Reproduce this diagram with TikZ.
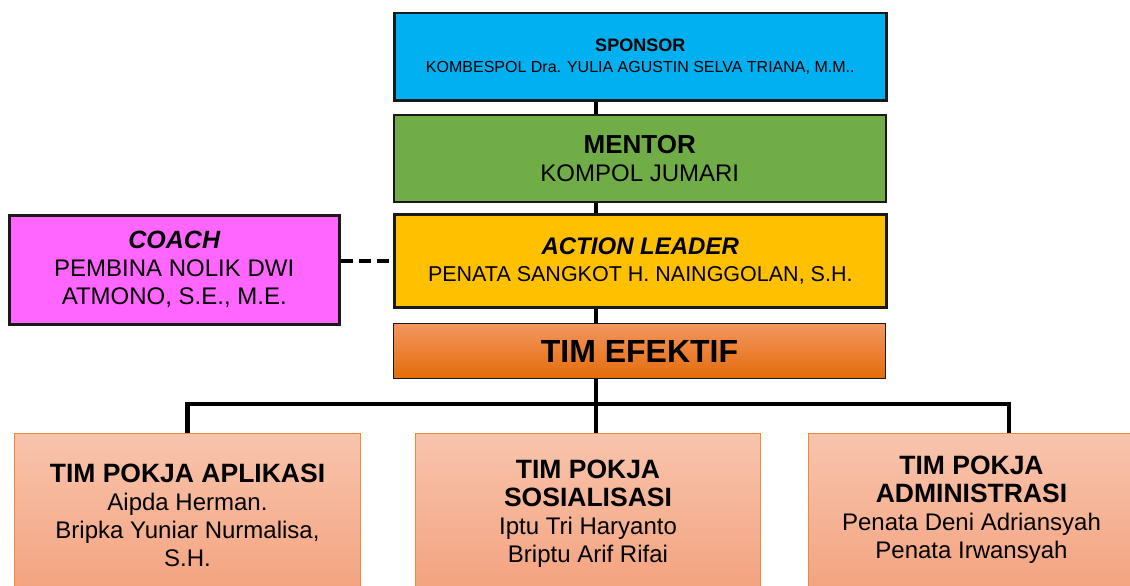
\documentclass[tikz,border=0pt]{standalone}
\usepackage{fontspec}
\setmainfont{Liberation Sans}
\usepackage{tikz}
\usetikzlibrary{
    positioning,
    calc,
    backgrounds
}
\definecolor{SponsorBlue}{RGB}{0,176,240}
\definecolor{MentorGreen}{RGB}{112,173,71}
\definecolor{LeaderGold}{RGB}{255,192,0}
\definecolor{CoachPink}{RGB}{255,102,255}
\definecolor{TeamTop}{RGB}{243,150,95}
\definecolor{TeamMid}{RGB}{246,128,44}
\definecolor{TeamBot}{RGB}{228,108,10}
\definecolor{PokjaTop}{RGB}{248,196,172}
\definecolor{PokjaBot}{RGB}{243,162,126}
\definecolor{PokjaEdge}{RGB}{240,135,60}
\definecolor{EdgeInk}{RGB}{25,25,25}
\tikzset{
    unit/.style={draw=EdgeInk, inner sep=0pt, align=center, anchor=north west},
    heavy/.style={unit, line width=2.5pt},
    light/.style={unit, line width=1.5pt},
    pokja/.style={unit, draw=PokjaEdge, line width=1pt, top color=PokjaTop, bottom color=PokjaBot,
        font=\fontsize{24}{28}\selectfont},
    link/.style={line width=4.5pt, draw=black},
    dashlink/.style={line width=4pt, draw=black, dash pattern=on 12pt off 6pt}
}

\begin{document}
\begin{tikzpicture}[x=1pt, y=-1pt]
    \useasboundingbox (0,0) rectangle (1130,586);
    \coordinate (spine) at (596,0);
    \coordinate (bus) at (0,404);
    \coordinate (admdrop) at (1009,404);
    % top chain
    \node[heavy, fill=SponsorBlue, minimum width=492pt, minimum height=87pt,
        font=\fontsize{16}{21}\selectfont] (sponsor) at (393,12)
        {{\bfseries\fontsize{18}{21}\selectfont SPONSOR}\\KOMBESPOL Dra. YULIA AGUSTIN SELVA TRIANA, M.M..};
    \node[light, fill=MentorGreen, minimum width=492pt, minimum height=87pt,
        font=\fontsize{24}{28}\selectfont] (mentor) at (393,114)
        {{\bfseries\fontsize{26}{28}\selectfont MENTOR}\\KOMPOL JUMARI};
    \node[heavy, fill=LeaderGold, minimum width=492pt, minimum height=93pt,
        font=\fontsize{21.5}{27}\selectfont] (leader) at (393,213)
        {{\bfseries\itshape\fontsize{24}{27}\selectfont ACTION LEADER}\\PENATA SANGKOT H. NAINGGOLAN, S.H.};
    \node[heavy, fill=CoachPink, minimum width=330pt, minimum height=109pt,
        font=\fontsize{24}{28}\selectfont] (coach) at (8,214)
        {{\bfseries\itshape\fontsize{25}{28}\selectfont COACH}\\PEMBINA NOLIK DWI\\ATMONO, S.E., M.E.};
    \node[unit, line width=1pt, top color=TeamTop, middle color=TeamMid, bottom color=TeamBot,
        minimum width=492pt, minimum height=55pt, font=\bfseries\fontsize{32}{36}\selectfont] (team) at (393,323)
        {TIM EFEKTIF};
    % working groups
    \node[pokja, minimum width=346pt, minimum height=164pt] (apl) at (14,433)
        {{\bfseries\fontsize{26.5}{28}\selectfont TIM POKJA APLIKASI}\\Aipda Herman.\\Bripka Yuniar Nurmalisa,\\S.H.};
    \node[pokja, minimum width=345pt, minimum height=160pt] (sos) at (415,433)
        {{\bfseries\fontsize{26.5}{30}\selectfont TIM POKJA}\\{\bfseries\fontsize{26.5}{30}\selectfont SOSIALISASI}\\Iptu Tri Haryanto\\Briptu Arif Rifai};
    \node[pokja, minimum width=326pt, minimum height=164pt] (adm) at (808,433)
        {{\bfseries\fontsize{26.5}{28}\selectfont TIM POKJA}\\{\bfseries\fontsize{26.5}{28}\selectfont ADMINISTRASI}\\Penata Deni Adriansyah\\Penata Irwansyah\\[-12pt]\mbox{}};
    \begin{scope}[on background layer]
        \draw[link] (sponsor.south -| spine) -- (sos.north -| spine);
        \draw[link] (apl.north) -- (apl.north |- bus) -- (admdrop) -- (admdrop |- adm.north);
    \end{scope}
    \draw[dashlink] (coach.east |- leader.west) -- (leader.west);
\end{tikzpicture}
\end{document}
